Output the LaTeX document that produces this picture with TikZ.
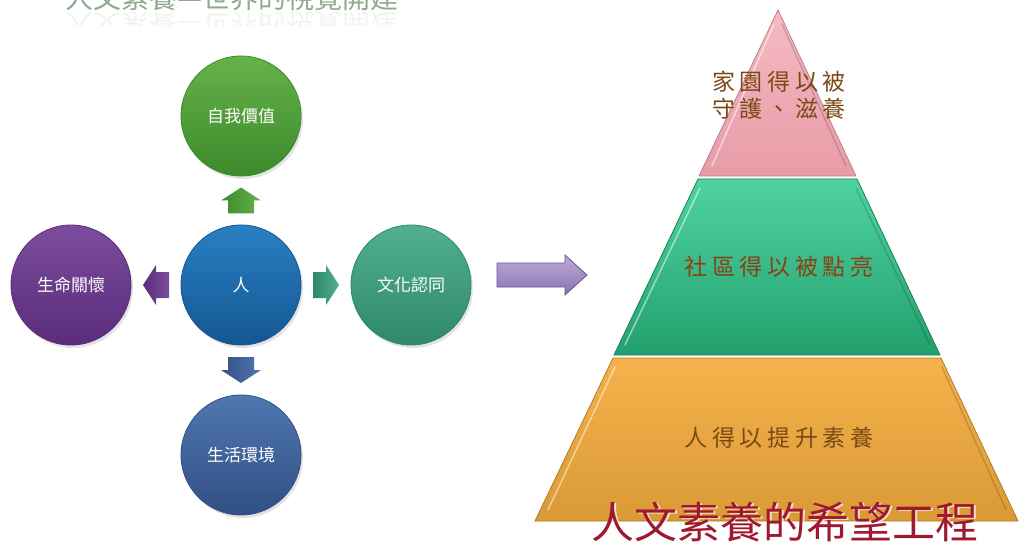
\documentclass[tikz,border=0pt]{standalone}
\usepackage{fontspec}
\newfontfamily\cjk{Noto Sans CJK TC}
\newfontfamily\cjkwide[LetterSpace=20]{Noto Sans CJK TC}
\usetikzlibrary{calc,shadows}
\definecolor{selfT}{HTML}{66B24A}\definecolor{selfB}{HTML}{3C8A2C}
\definecolor{renT}{HTML}{2A80C2}\definecolor{renB}{HTML}{145692}
\definecolor{lifeT}{HTML}{7D4C9E}\definecolor{lifeB}{HTML}{5A2C7A}
\definecolor{cultT}{HTML}{52B08E}\definecolor{cultB}{HTML}{2E8868}
\definecolor{envT}{HTML}{5077B0}\definecolor{envB}{HTML}{314F84}
\definecolor{lavT}{HTML}{BCAAD9}\definecolor{lavB}{HTML}{8A73B2}\definecolor{lavE}{HTML}{6A5690}
\definecolor{pinkT}{HTML}{F4BAC2}\definecolor{pinkB}{HTML}{E89CA8}\definecolor{pinkE}{HTML}{C27C88}
\definecolor{grnT}{HTML}{4FD3A0}\definecolor{grnB}{HTML}{22A06E}\definecolor{grnE}{HTML}{1C8058}
\definecolor{orT}{HTML}{F6B24C}\definecolor{orB}{HTML}{D99A36}\definecolor{orE}{HTML}{B07A24}
\definecolor{brownT}{HTML}{7A4A16}\definecolor{titleRed}{HTML}{A01830}\definecolor{topGrey}{HTML}{8FAA8F}
\begin{document}
\begin{tikzpicture}[x=1pt,y=-1pt,
  bub/.style={circle, minimum size=120, inner sep=0, text=white,
    font=\cjk\fontsize{17}{20}\selectfont, line width=0.8,
    drop shadow={opacity=0.22, shadow xshift=2pt, shadow yshift=-3pt}},
  pyrtext/.style={font=\cjkwide\fontsize{23}{27}\selectfont, text=brownT, align=center, inner sep=0},
  toptitle/.style={font=\cjk\fontsize{28}{28}\selectfont, text=topGrey, inner sep=0},
  pics/blockarr/.style={code={
    \shade[#1] (-13,-13) -- (0,-13) -- (0,-20) -- (13,0) -- (0,20) -- (0,13) -- (-13,13) -- cycle;}},
  pics/bigarrow/.style={code={
    \shade[top color=lavT, bottom color=lavB, draw=lavE, line width=0.8]
      (-45,-12) -- (23,-12) -- (23,-20) -- (45,0) -- (23,20) -- (23,12) -- (-45,12) -- cycle;}}
]
\useasboundingbox (0,0) rectangle (1020,548);
\fill[white] (0,0) rectangle (1020,548);

% heading, cut off by the top edge as in the reference, and its faint reflection
\node[toptitle, anchor=base west] (head) at (65,9) {人文素養—世界的視覺開建};
\begin{scope}
  \clip (0,11) rectangle (1020,26);
  \node[toptitle, anchor=base west, yscale=-1, opacity=0.13] (headrefl) at (65,15) {人文素養—世界的視覺開建};
\end{scope}

% circles
\node[bub, top color=selfT, bottom color=selfB, draw=selfB] (self) at (241,116) {自我價值};
\node[bub, top color=renT, bottom color=renB, draw=renB] (ren) at (241,285) {人};
\node[bub, top color=lifeT, bottom color=lifeB, draw=lifeB] (life) at (71,285) {生命關懷};
\node[bub, top color=cultT, bottom color=cultB, draw=cultB] (cult) at (411,285) {文化認同};
\node[bub, top color=envT, bottom color=envB, draw=envB] (env) at (241,455) {生活環境};

% small block arrows between the centre and the outer circles
\coordinate (aup) at ($(ren)!0.5!(self)$);
\coordinate (aleft) at ($(ren)!0.5!(life)$);
\coordinate (aright) at ($(ren)!0.5!(cult)$);
\coordinate (adown) at ($(ren)!0.5!(env)$);
\pic[rotate=90] at (aup) {blockarr={left color=selfB, right color=selfT}};
\pic[rotate=180] at (aleft) {blockarr={left color=lifeB, right color=lifeT}};
\pic at (aright) {blockarr={left color=cultB, right color=cultT}};
\pic[rotate=-90] at (adown) {blockarr={left color=envB, right color=envT}};

% big arrow
\coordinate (bigarr) at (542,275);
\pic at (bigarr) {bigarrow};

% pyramid
\coordinate (apex) at (778,10);
\shade[top color=pinkT, bottom color=pinkB, draw=pinkE, line width=0.8]
  (apex) -- (856,176) -- (699,176) -- cycle;
\shade[top color=grnT, bottom color=grnB, draw=grnE, line width=0.8]
  (698,179) -- (857,179) -- (940,355) -- (614,355) -- cycle;
\shade[top color=orT, bottom color=orB, draw=orE, line width=0.8]
  (613,358) -- (941,358) -- (1018,521) -- (535,521) -- cycle;
% bevel highlights
\draw[white, opacity=0.55, line width=1.5, line cap=round] (774,24) -- (712,166);
\draw[white, opacity=0.5, line width=1.5, line cap=round] (700,188) -- (625,345);
\draw[white, opacity=0.5, line width=1.5, line cap=round] (615,367) -- (548,510);
\draw[black, opacity=0.15, line width=1.5, line cap=round] (782,24) -- (846,166);
\draw[black, opacity=0.15, line width=1.5, line cap=round] (856,188) -- (930,345);
\draw[black, opacity=0.15, line width=1.5, line cap=round] (942,367) -- (1006,510);

\node[pyrtext] (p1) at (779,95) {家園得以被\\守護、滋養};
\node[pyrtext, text=brownT!85!red] (p2) at (779,267) {社區得以被點亮};
\node[pyrtext] (p3) at (779,438) {人得以提升素養};

% bottom title
\node[font=\cjk\fontsize{43}{43}\selectfont, text=white, opacity=0.7] (bigshadow) at (786.5,523.5) {人文素養的希望工程};
\node[font=\cjk\fontsize{43}{43}\selectfont, text=titleRed] (big) at (785,522) {人文素養的希望工程};
\end{tikzpicture}
\end{document}
